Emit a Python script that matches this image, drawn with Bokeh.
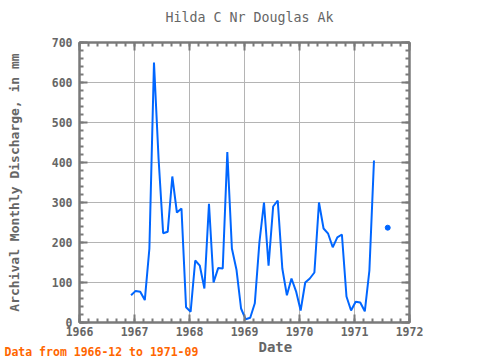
from bokeh.plotting import figure
from bokeh.models import (Range1d, SingleIntervalTicker, LinearAxis, Title,
                          CustomJSTickFormatter)
from bokeh.embed import file_html
from bokeh.resources import INLINE

# Monthly discharge (mm), Hilda C Nr Douglas Ak
months = [
    "1966-12",
    "1967-01", "1967-02", "1967-03", "1967-04", "1967-05", "1967-06",
    "1967-07", "1967-08", "1967-09", "1967-10", "1967-11", "1967-12",
    "1968-01", "1968-02", "1968-03", "1968-04", "1968-05", "1968-06",
    "1968-07", "1968-08", "1968-09", "1968-10", "1968-11", "1968-12",
    "1969-01", "1969-02", "1969-03", "1969-04", "1969-05", "1969-06",
    "1969-07", "1969-08", "1969-09", "1969-10", "1969-11", "1969-12",
    "1970-01", "1970-02", "1970-03", "1970-04", "1970-05", "1970-06",
    "1970-07", "1970-08", "1970-09", "1970-10", "1970-11", "1970-12",
    "1971-01", "1971-02", "1971-03", "1971-04", "1971-05", "1971-06",
    "1971-07", "1971-08",
]
discharge = [
    68,
    79, 77, 56, 185, 650, 410,
    223, 227, 365, 275, 285, 38,
    27, 155, 142, 85, 297, 100,
    136, 135, 426, 185, 132, 35,
    8, 12, 48, 200, 300, 142,
    290, 305, 135, 68, 110, 78,
    30, 100, 110, 125, 300, 235,
    222, 188, 213, 220, 65, 30,
    52, 50, 28, 130, 405, None,
    None, 237,
]
x_ticks = [1966, 1967, 1968, 1969, 1970, 1971, 1972]

title_text = "Hilda C Nr Douglas Ak"
y_label = "Archival Monthly Discharge, in mm"
x_label = "Date"
note_text = "Data from 1966-12 to 1971-09"

xs = [int(m[:4]) + (int(m[5:7]) - 1 + 0.25) / 12 for m in months]
ys = [float("nan") if v is None else v for v in discharge]

iso_x, iso_y = [], []
for i, v in enumerate(discharge):
    prev_none = i == 0 or discharge[i - 1] is None
    next_none = i == len(discharge) - 1 or discharge[i + 1] is None
    if v is not None and prev_none and next_none:
        iso_x.append(xs[i])
        iso_y.append(v)

FONT = "DejaVu Sans Mono"
GRAY = "#666666"
AXC = "#7a7a7a"
BLUE = "#0066ff"

p = figure(width=480, height=360, output_backend="svg", toolbar_location=None,
           x_range=Range1d(x_ticks[0], x_ticks[-1]), y_range=Range1d(0, 700),
           min_border_left=79, min_border_right=71, min_border_top=42, min_border_bottom=38,
           background_fill_color="white", border_fill_color="white")
p.outline_line_color = AXC
p.outline_line_width = 2

p.title.text = title_text
p.title.align = "left"
p.title.offset = 86
p.title.vertical_align = "top"
p.title.standoff = -2
p.title.text_font = FONT
p.title.text_font_size = "13.3px"
p.title.text_font_style = "normal"
p.title.text_color = GRAY

xt = SingleIntervalTicker(interval=1, num_minor_ticks=6)
yt = SingleIntervalTicker(interval=100, num_minor_ticks=5)

def style(ax):
    ax.axis_line_color = AXC
    ax.axis_line_width = 2
    ax.major_tick_line_color = AXC
    ax.minor_tick_line_color = AXC
    ax.major_tick_line_width = 2
    ax.minor_tick_line_width = 2
    ax.major_tick_in = 8
    ax.major_tick_out = 0
    ax.minor_tick_in = 4
    ax.minor_tick_out = 0
    ax.major_label_text_font = FONT
    ax.major_label_text_font_style = "bold"
    ax.major_label_text_color = GRAY
    ax.major_label_text_font_size = "11.5px"

p.xaxis.ticker = xt
p.yaxis.ticker = yt
p.xaxis.major_label_standoff = 4
p.yaxis.major_label_standoff = 7
style(p.xaxis[0])
style(p.yaxis[0])

p.yaxis.axis_label = y_label
p.yaxis.axis_label_standoff = 27
p.yaxis.axis_label_text_font = FONT
p.yaxis.axis_label_text_font_size = "13px"
p.yaxis.axis_label_text_font_style = "bold"
p.yaxis.axis_label_text_color = GRAY

blank_top = CustomJSTickFormatter(code="return ' '")
blank = CustomJSTickFormatter(code="return ''")
top = LinearAxis(ticker=SingleIntervalTicker(interval=1, num_minor_ticks=6), formatter=blank_top)
right = LinearAxis(ticker=SingleIntervalTicker(interval=100, num_minor_ticks=5), formatter=blank)
style(top)
style(right)
top.major_label_standoff = 0
right.major_label_standoff = 0
p.add_layout(top, "above")
p.add_layout(right, "right")

p.xgrid.ticker = xt
p.ygrid.ticker = yt
p.grid.grid_line_color = "#b4b4b4"
p.grid.grid_line_width = 1

p.line(xs, ys, line_color=BLUE, line_width=2)
p.scatter(iso_x, iso_y, size=5, color=BLUE)

date_t = Title(text=x_label, align="left", offset=179, vertical_align="bottom", standoff=-4,
               text_font=FONT, text_font_size="14px", text_font_style="bold", text_color=GRAY)
note_t = Title(text=note_text, align="left", offset=-75, vertical_align="top", standoff=-16,
               text_font=FONT, text_font_size="11.5px", text_font_style="bold",
               text_color="#ff6600")
p.add_layout(date_t, "below")
p.add_layout(note_t, "below")

open("out.html", "w").write(file_html(p, INLINE))
